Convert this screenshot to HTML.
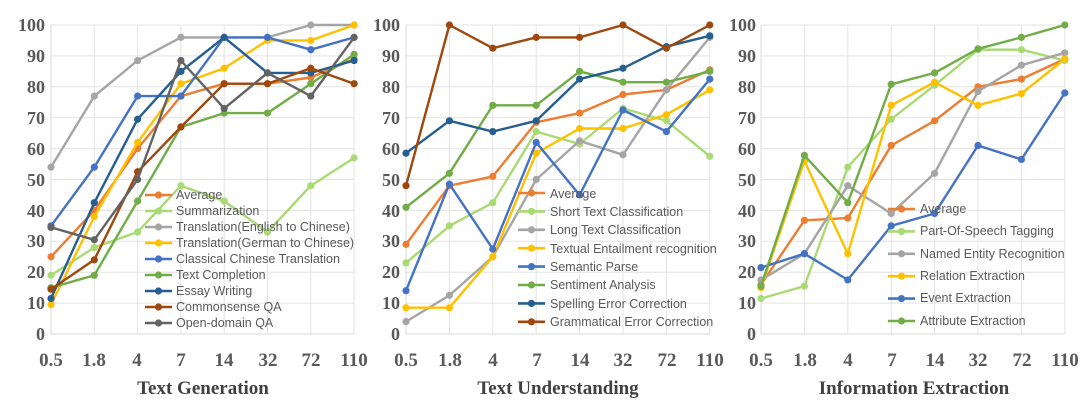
<!DOCTYPE html>
<html><head><meta charset="utf-8"><style>
html,body{margin:0;padding:0;background:#fff;}
svg{display:block;}
.yl{font-family:"Liberation Serif",serif;font-weight:bold;font-size:18px;fill:#595959;text-anchor:end;}
.xl{font-family:"Liberation Serif",serif;font-weight:bold;font-size:19px;fill:#595959;text-anchor:middle;}
.ti{font-family:"Liberation Serif",serif;font-weight:bold;font-size:19px;fill:#404040;text-anchor:middle;}
.lg{font-family:"Liberation Sans",sans-serif;font-size:12.5px;fill:#595959;}
</style></head><body>
<svg id="s" width="1080" height="400" viewBox="0 0 1080 400" xmlns="http://www.w3.org/2000/svg">
<g id="grid"></g><g id="series"></g>
<g class="yl">
<text x="45" y="31">100</text><text x="45" y="62">90</text><text x="45" y="93">80</text><text x="45" y="124">70</text><text x="45" y="155">60</text><text x="45" y="186">50</text><text x="45" y="217">40</text><text x="45" y="247">30</text><text x="45" y="278">20</text><text x="45" y="309">10</text><text x="45" y="340">0</text>
<text x="400" y="31">100</text><text x="400" y="62">90</text><text x="400" y="93">80</text><text x="400" y="124">70</text><text x="400" y="155">60</text><text x="400" y="186">50</text><text x="400" y="217">40</text><text x="400" y="247">30</text><text x="400" y="278">20</text><text x="400" y="309">10</text><text x="400" y="340">0</text>
<text x="756" y="31">100</text><text x="756" y="62">90</text><text x="756" y="93">80</text><text x="756" y="124">70</text><text x="756" y="155">60</text><text x="756" y="186">50</text><text x="756" y="217">40</text><text x="756" y="247">30</text><text x="756" y="278">20</text><text x="756" y="309">10</text><text x="756" y="340">0</text>
</g>
<g class="xl">
<text x="51" y="366">0.5</text><text x="94" y="366">1.8</text><text x="137" y="366">4</text><text x="181" y="366">7</text><text x="224" y="366">14</text><text x="268" y="366">32</text><text x="311" y="366">72</text><text x="354" y="366">110</text>
<text x="406" y="366">0.5</text><text x="450" y="366">1.8</text><text x="493" y="366">4</text><text x="537" y="366">7</text><text x="580" y="366">14</text><text x="623" y="366">32</text><text x="667" y="366">72</text><text x="710" y="366">110</text>
<text x="761" y="366">0.5</text><text x="805" y="366">1.8</text><text x="848" y="366">4</text><text x="892" y="366">7</text><text x="935" y="366">14</text><text x="978" y="366">32</text><text x="1022" y="366">72</text><text x="1065" y="366">110</text>
</g>
<text class="ti" x="203" y="394">Text Generation</text>
<text class="ti" x="558" y="394">Text Understanding</text>
<text class="ti" x="914" y="394">Information Extraction</text>
<g id="leg"></g>
<g class="lg">
<text x="176" y="199">Average</text><text x="176" y="215">Summarization</text><text x="176" y="231">Translation(English to Chinese)</text><text x="176" y="247">Translation(German to Chinese)</text><text x="176" y="263">Classical Chinese Translation</text><text x="176" y="279">Text Completion</text><text x="176" y="295">Essay Writing</text><text x="176" y="311">Commonsense QA</text><text x="176" y="327">Open-domain QA</text>
<text x="550" y="198">Average</text><text x="550" y="216">Short Text Classification</text><text x="550" y="234">Long Text Classification</text><text x="550" y="253">Textual Entailment recognition</text><text x="550" y="271">Semantic Parse</text><text x="550" y="289">Sentiment Analysis</text><text x="550" y="308">Spelling Error Correction</text><text x="550" y="326">Grammatical Error Correction</text>
<text x="920" y="213">Average</text><text x="920" y="235">Part-Of-Speech Tagging</text><text x="920" y="258">Named Entity Recognition</text><text x="920" y="280">Relation Extraction</text><text x="920" y="302">Event Extraction</text><text x="920" y="325">Attribute Extraction</text>
</g>
</svg>
<script>
var NS="http://www.w3.org/2000/svg";
function el(p,t,a){var e=document.createElementNS(NS,t);for(var k in a)e.setAttribute(k,a[k]);p.appendChild(e);return e;}
var Y=function(v){return 334-v*3.09;};
var O="#ED7D31",LG="#A9DA74",G="#A5A5A5",Yl="#FFC000",B="#4472C4",Gr="#70AD47",DB="#255E91",Br="#9E480E",DG="#636363";
var P=[
{x0:51,st:43.3,leg:{x:145,y:195,d:16},s:[
[O,[25,40,60,77,81,81,83,89]],[LG,[19,28,33,48,43,33,48,57]],[G,[54,77,88.5,96,96,96,100,100]],[Yl,[9.5,38,62,81,86,95,95,100]],[B,[35,54,77,77,96,96,92,96]],[Gr,[15,19,43,67,71.5,71.5,81,90.5]],[DB,[11.5,42.5,69.5,85,96,84.5,84.5,88.5]],[Br,[14.5,24,52.5,67,81,81,86,81]],[DG,[34.5,30.5,50,88.5,73,84.5,77,96]]]},
{x0:406,st:43.4,leg:{x:518,y:193,d:18.4},s:[
[O,[29,48,51,68.5,71.5,77.5,79,85.5]],[LG,[23,35,42.5,65.5,61.5,73,69,57.5]],[G,[4,12.5,25,50,62.5,58,79,96]],[Yl,[8.5,8.5,25,58.5,66.5,66.5,71,79]],[B,[14,48.5,27.5,62,45,72.5,65.5,82.5]],[Gr,[41,52,74,74,85,81.5,81.5,85]],[DB,[58.5,69,65.5,69,82.5,86,93,96.5]],[Br,[48,100,92.5,96,96,100,92.5,100]]]},
{x0:761,st:43.4,leg:{x:888,y:209,d:22.4},s:[
[O,[16,36.8,37.5,61,69,80,82.5,89]],[LG,[11.5,15.5,54,69.5,80.5,92,92,88.5]],[G,[17.5,26,48,39,52,78.5,87,91]],[Yl,[15,56,26,74,81.5,74,77.8,89]],[B,[21.5,26,17.5,35,39,61,56.5,78]],[Gr,[15.5,57.8,42.5,80.8,84.5,92.3,96,100]]]}
];
var g=document.getElementById("grid"),sg=document.getElementById("series"),lg=document.getElementById("leg");
P.forEach(function(p){
 var x1=p.x0+7*p.st;
 for(var v=10;v<=100;v+=10)el(g,"line",{x1:p.x0,x2:x1,y1:Y(v),y2:Y(v),stroke:"#e3e3e3","stroke-width":1});
 for(var i=1;i<8;i++){var x=p.x0+i*p.st;el(g,"line",{x1:x,x2:x,y1:Y(100),y2:Y(0),stroke:"#e3e3e3","stroke-width":1});}
 el(g,"line",{x1:p.x0,x2:p.x0,y1:Y(100),y2:Y(0),stroke:"#d9d9d9","stroke-width":1});
 el(g,"line",{x1:p.x0,x2:x1,y1:Y(0),y2:Y(0),stroke:"#d9d9d9","stroke-width":1});
 p.s.forEach(function(s,k){
  var pts=s[1].map(function(v,i){return (p.x0+i*p.st).toFixed(1)+","+Y(v).toFixed(1);});
  el(sg,"polyline",{points:pts.join(" "),fill:"none",stroke:s[0],"stroke-width":2.4,"stroke-linejoin":"round"});
  s[1].forEach(function(v,i){el(sg,"circle",{cx:p.x0+i*p.st,cy:Y(v),r:3.6,fill:s[0]});});
  var ly=p.leg.y+k*p.leg.d;
  el(lg,"line",{x1:p.leg.x,x2:p.leg.x+27,y1:ly,y2:ly,stroke:s[0],"stroke-width":2.6});
  el(lg,"circle",{cx:p.leg.x+13.5,cy:ly,r:3.6,fill:s[0]});
 });
});
</script>
</body></html>
